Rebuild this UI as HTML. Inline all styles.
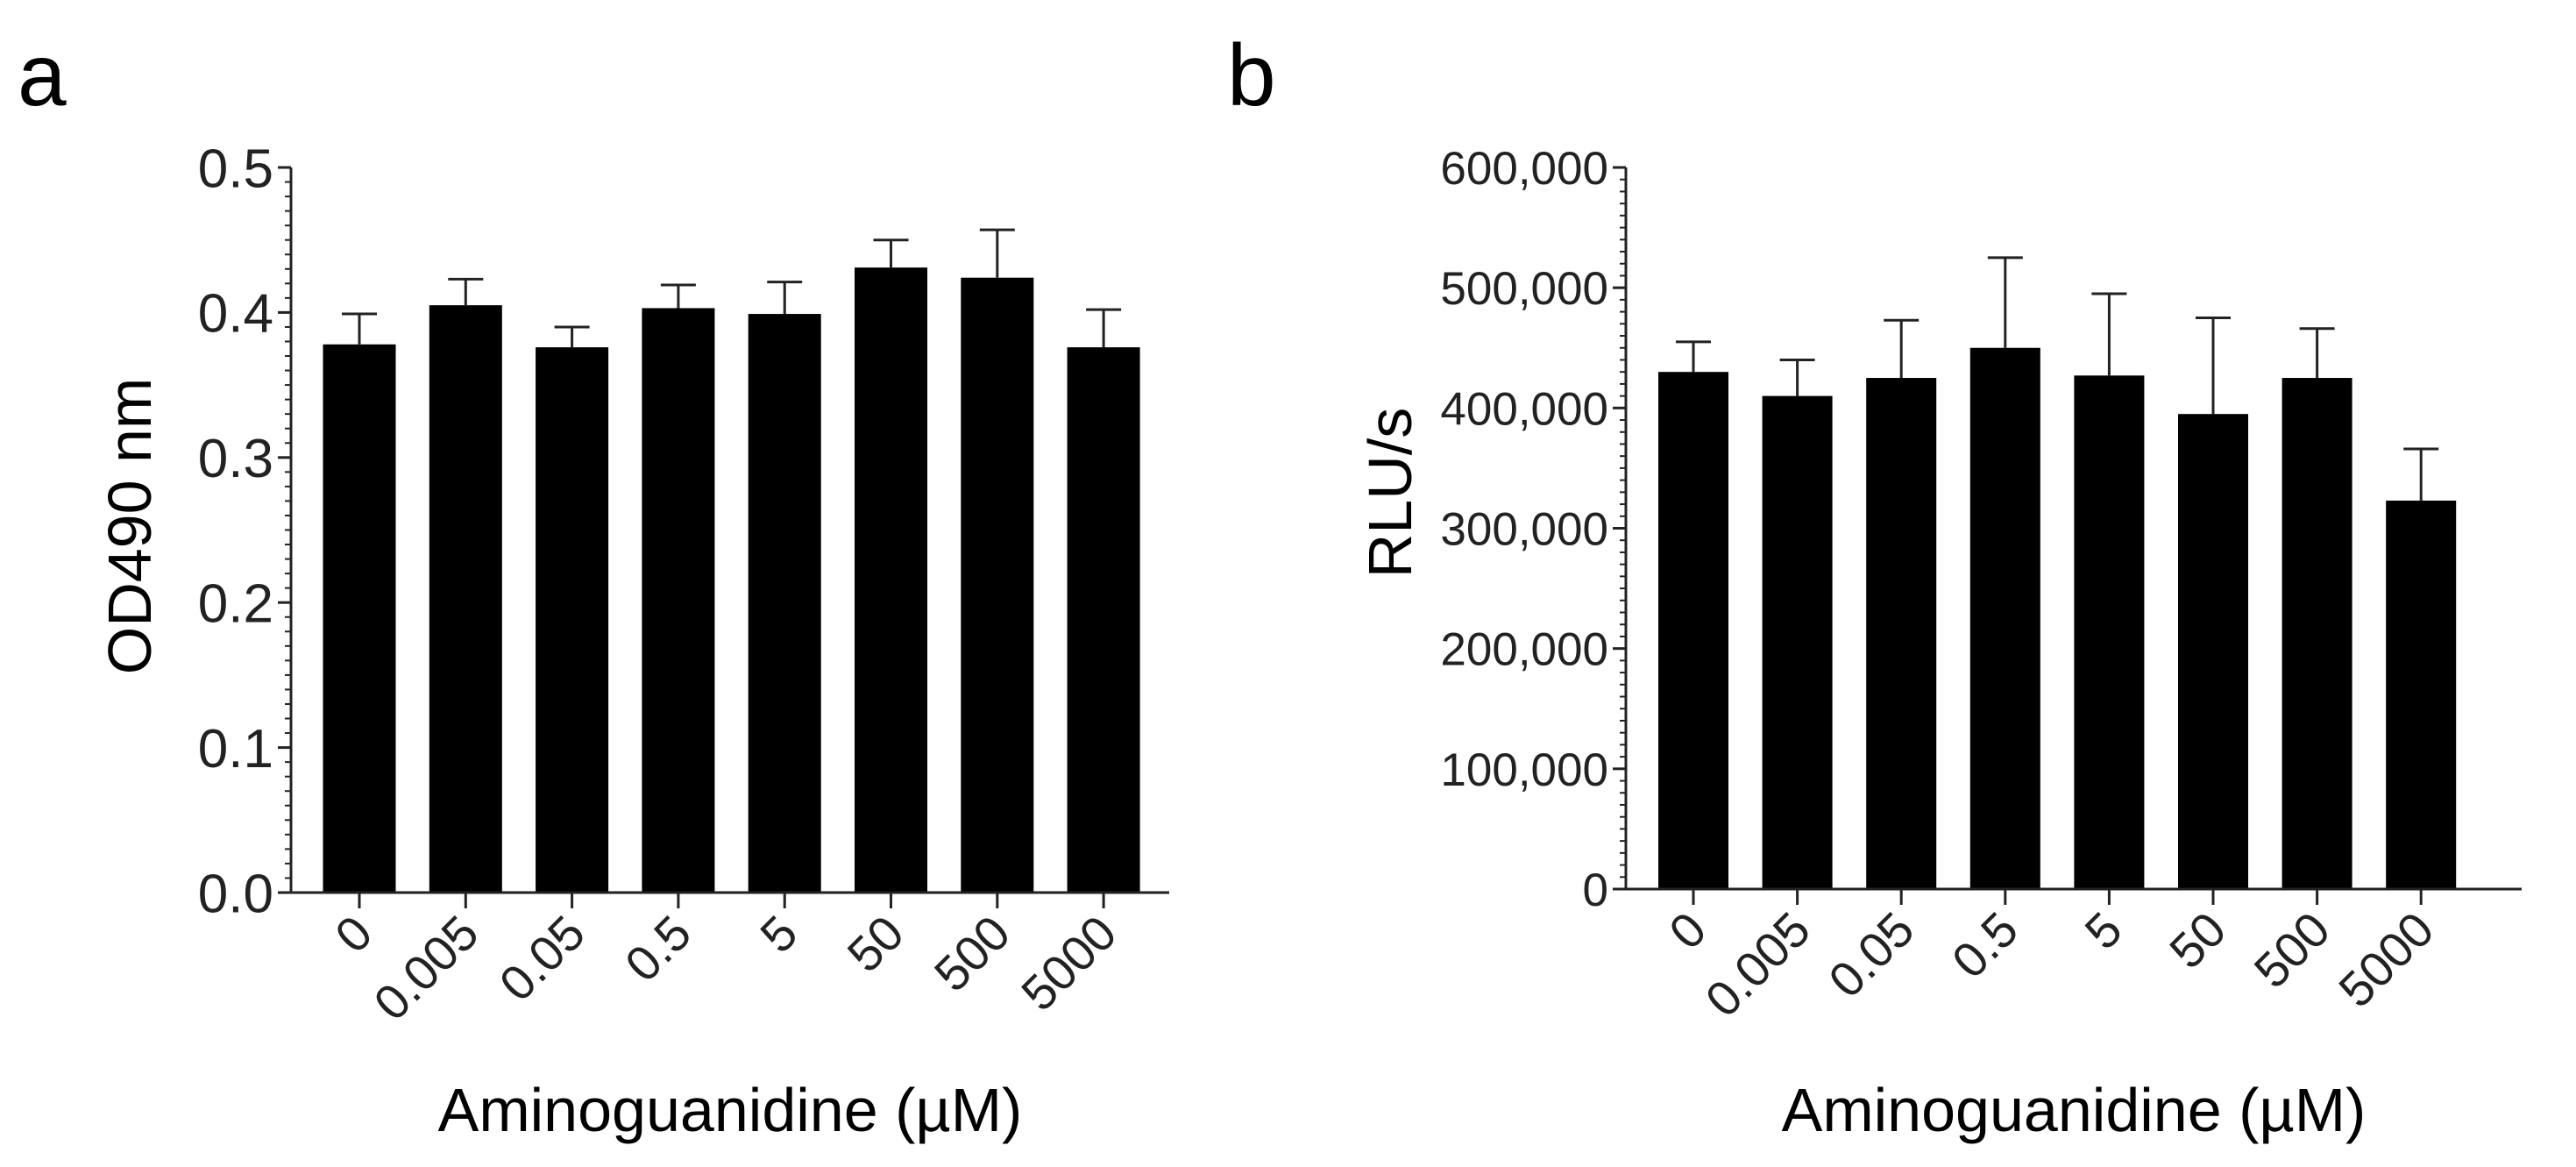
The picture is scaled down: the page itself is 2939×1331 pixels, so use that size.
<!DOCTYPE html>
<html><head><meta charset="utf-8"><style>
html,body{margin:0;padding:0;background:#fff;}
svg{display:block;font-family:"Liberation Sans",Arial,sans-serif;}
</style></head><body>
<svg id="fig" width="2939" height="1331" viewBox="0 0 2939 1331" xmlns="http://www.w3.org/2000/svg">
<text x="20" y="120" font-size="100" fill="#000">a</text>
<text x="1400" y="120" font-size="100" fill="#000">b</text>
<g id="pa"></g>
<g id="pb"></g>
</svg>
<script>
const categories = ["0","0.005","0.05","0.5","5","50","500","5000"];
const odMeans = [0.378,0.405,0.376,0.403,0.399,0.431,0.424,0.376];
const odErrTop = [0.399,0.423,0.390,0.419,0.421,0.450,0.457,0.402];
const odTicks = ["0.0","0.1","0.2","0.3","0.4","0.5"];
const rluMeans = [430000,410000,425000,450000,427000,395000,425000,323000];
const rluErrTop = [455000,440000,473000,525000,495000,475000,466000,366000];
const rluTicks = ["0","100,000","200,000","300,000","400,000","500,000","600,000"];

const NS="http://www.w3.org/2000/svg";
function mk(parent,tag,attrs,text){const e=document.createElementNS(NS,tag);for(const k in attrs)e.setAttribute(k,attrs[k]);if(text!==undefined)e.textContent=text;parent.appendChild(e);return e;}

function drawPanel(g,cfg){
  const {x0,x1,yTop,yBot,max,means,errs,ticks,first,step,barW,title,titleX,titleY,tickFont}=cfg;
  const ys=v=>yBot-(v/max)*(yBot-yTop);
  const xs=i=>first+i*step;
  means.forEach((m,i)=>{
    const cx=xs(i);
    const r=mk(g,'rect',{x:cx-barW/2,y:ys(m),width:barW,height:yBot-ys(m),fill:'#000'});
    
    
    const l=mk(g,'line',{x1:cx,x2:cx,y1:ys(m),y2:ys(errs[i]),stroke:'#222','stroke-width':3});
    
    
    const c=mk(g,'line',{x1:cx-20,x2:cx+20,y1:ys(errs[i]),y2:ys(errs[i]),stroke:'#222','stroke-width':3});
    
    
    const t=mk(g,'line',{x1:cx,x2:cx,y1:yBot,y2:yBot+18,stroke:'#222','stroke-width':3});
    
    
    const lb=mk(g,'text',{x:cx+18,y:yBot+50,'font-size':56,fill:'#222','text-anchor':'end',transform:`rotate(-45 ${cx+18} ${yBot+50})`},categories[i]);
    
    
  });
  const ya=mk(g,'line',{x1:x0,x2:x0,y1:yTop,y2:yBot+1.5,stroke:'#222','stroke-width':3});
  
  
  const xa=mk(g,'line',{x1:x0-15,x2:x1,y1:yBot,y2:yBot,stroke:'#222','stroke-width':3});
  
  
  const n=ticks.length-1;
  for(let k=0;k<=n*10;k++){
    const y=yBot-(k/(n*10))*(yBot-yTop);
    const major=k%10===0;
    const t=mk(g,'line',{x1:x0-(major?15:7),x2:x0,y1:y,y2:y,stroke:'#222','stroke-width':major?3:2});
    
    
    if(major){
      const lb=mk(g,'text',{x:x0-20,y:y+tickFont*0.36,'font-size':tickFont,fill:'#222','text-anchor':'end'},ticks[k/10]);
      
      
    }
  }
  const yt=mk(g,'text',{x:titleX,y:titleY,'font-size':70,fill:'#000','text-anchor':'middle',transform:`rotate(-90 ${titleX} ${titleY})`},title);
  
  
  const xt=mk(g,'text',{x:(x0+x1)/2,y:1290,'font-size':70,fill:'#000','text-anchor':'middle'},'Aminoguanidine (µM)');
  
  
}
drawPanel(document.getElementById('pa'),{x0:332,x1:1334,yTop:191,yBot:1018,max:0.5,means:odMeans,errs:odErrTop,ticks:odTicks,first:410,step:121.3,barW:83,title:'OD490 nm',titleX:172,titleY:600,tickFont:62});
drawPanel(document.getElementById('pb'),{x0:1855,x1:2877,yTop:191,yBot:1014,max:600000,means:rluMeans,errs:rluErrTop,ticks:rluTicks,first:1932,step:118.6,barW:80,title:'RLU/s',titleX:1610,titleY:562,tickFont:53});
</script>
</body></html>
